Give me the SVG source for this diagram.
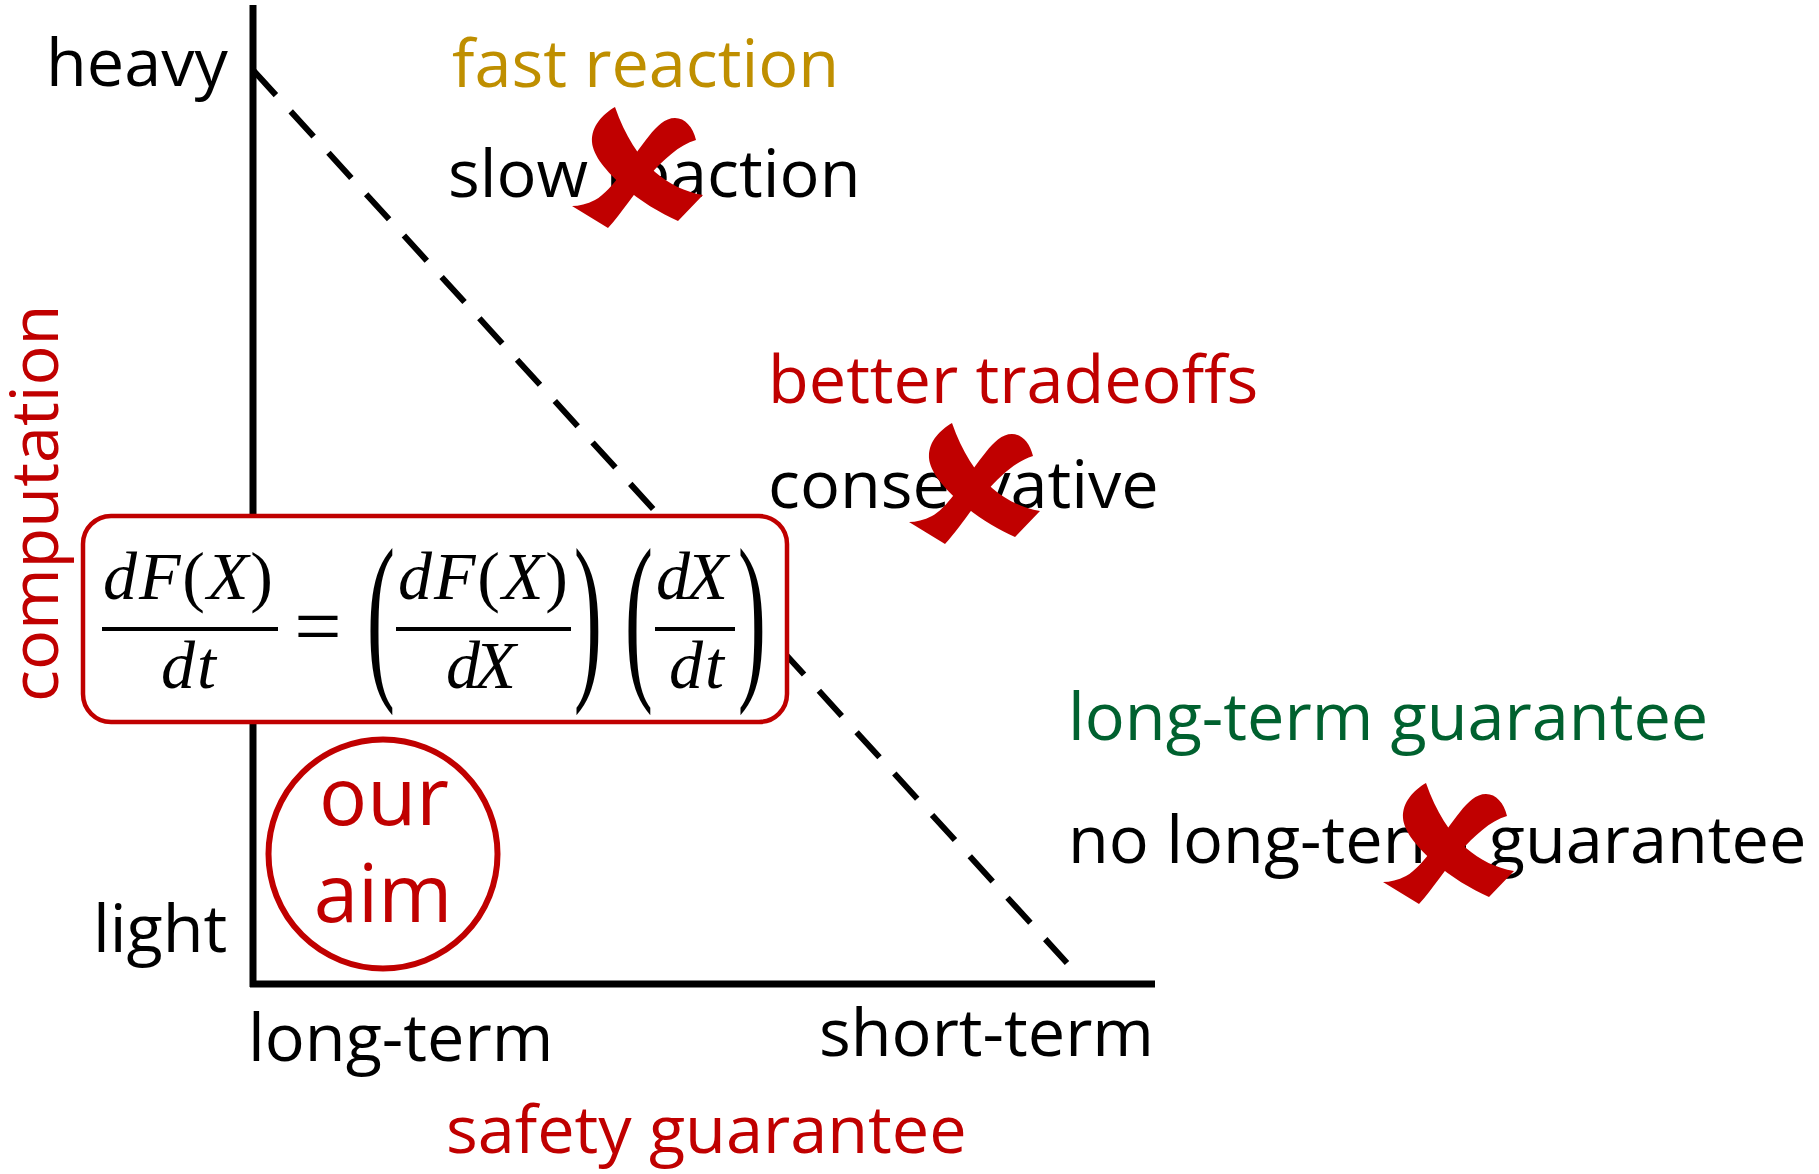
<svg xmlns="http://www.w3.org/2000/svg" xmlns:xlink="http://www.w3.org/1999/xlink" width="1819" height="1174" viewBox="0 0 1819 1174">
<style>
.t{font-family:"Open Sans","Liberation Sans",sans-serif;font-size:66.6px;fill:#000}
.red{fill:#C00000}
.gold{fill:#BF8F00}
.green{fill:#00612F}
.aim{font-size:80px}
.m{font-family:"Liberation Serif","DejaVu Serif",serif;font-size:68px;font-style:italic;fill:#000}
.up{font-style:normal}
.par{font-family:"Liberation Serif","DejaVu Serif",serif;font-size:68px;fill:#000}
.eq{font-size:84px}
.bar{stroke:#000;stroke-width:4}
.axis{stroke:#000;stroke-width:7;fill:none}
.dash{stroke:#000;stroke-width:6;stroke-dasharray:34 22;fill:none}
.xm{fill:#C00000}
</style>
<defs>
<g id="cross">
<path class="xm" d="M50,7 C38,14 26,26 27,42 C28,56 42,72 58,86 C75,101 95,113 113,121 L138,95 C120,92 104,84 90,72 C74,57 60,36 50,7 Z"/>
<path class="xm" d="M131,40 C128,27 120,18 110,18 C100,18 92,26 84,36 C66,58 48,90 30,100 C22,104 14,106 7,106 L43,128 C56,114 70,92 84,76 C98,60 114,45 131,40 Z"/>
</g>
</defs>
<rect width="1819" height="1174" fill="#fff"/>
<g id="connectors">
<line class="axis" x1="253" y1="5" x2="253" y2="987"/>
<line class="axis" x1="250" y1="984" x2="1155" y2="984"/>
<line class="dash" x1="253" y1="70" x2="1067" y2="963"/>
</g>
<g id="axis-labels">
<text class="t" x="46" y="86">heavy</text>
<text class="t" x="93" y="952">light</text>
<text class="t" x="248" y="1061">long-term</text>
<text class="t" x="819" y="1056">short-term</text>
<text class="t red" x="446" y="1153">safety guarantee</text>
<text class="t red" transform="translate(58,702) rotate(-90)" x="0" y="0">computation</text>
</g>
<g id="fast-reaction">
<text class="t gold" x="452" y="87">fast reaction</text>
<text class="t" x="448" y="197">slow reaction</text>
<use xlink:href="#cross" href="#cross" x="565" y="100"/>
</g>
<g id="better-tradeoffs">
<text class="t red" x="768" y="403">better tradeoffs</text>
<text class="t" x="768" y="508">conservative</text>
<use xlink:href="#cross" href="#cross" x="902" y="416"/>
</g>
<g id="long-term-guarantee">
<text class="t green" x="1068" y="740">long-term guarantee</text>
<text class="t" x="1068" y="863">no long-term guarantee</text>
<use xlink:href="#cross" href="#cross" x="1376" y="776"/>
</g>
<g id="formula">
<rect x="83" y="516" width="704" height="206" rx="28" ry="28" fill="#fff" stroke="#C00000" stroke-width="4.5"/>
<text class="m" x="103" y="599" textLength="170" lengthAdjust="spacing">dF<tspan class="up">(</tspan>X<tspan class="up">)</tspan></text>
<line class="bar" x1="102" y1="629" x2="278" y2="629"/>
<text class="m" x="161" y="688" textLength="55" lengthAdjust="spacing">dt</text>
<text class="par eq" x="318" y="655" text-anchor="middle">=</text>
<text class="par" transform="translate(381,630) scale(1.25,2.7)" x="0" y="17" text-anchor="middle">(</text>
<text class="m" x="398" y="599" textLength="170" lengthAdjust="spacing">dF<tspan class="up">(</tspan>X<tspan class="up">)</tspan></text>
<line class="bar" x1="396" y1="629" x2="571" y2="629"/>
<text class="m" x="446" y="688" textLength="70" lengthAdjust="spacing">dX</text>
<text class="par" transform="translate(588,630) scale(1.25,2.7)" x="0" y="17" text-anchor="middle">)</text>
<text class="par" transform="translate(639,630) scale(1.25,2.7)" x="0" y="17" text-anchor="middle">(</text>
<text class="m" x="656" y="599" textLength="72" lengthAdjust="spacing">dX</text>
<line class="bar" x1="655" y1="629" x2="735" y2="629"/>
<text class="m" x="669" y="688" textLength="55" lengthAdjust="spacing">dt</text>
<text class="par" transform="translate(752,630) scale(1.25,2.7)" x="0" y="17" text-anchor="middle">)</text>
</g>
<g id="our-aim">
<circle cx="383" cy="854" r="114.5" fill="none" stroke="#C00000" stroke-width="6"/>
<text class="t red aim" x="384" y="825" text-anchor="middle">our</text>
<text class="t red aim" x="383" y="922" text-anchor="middle">aim</text>
</g>
</svg>
